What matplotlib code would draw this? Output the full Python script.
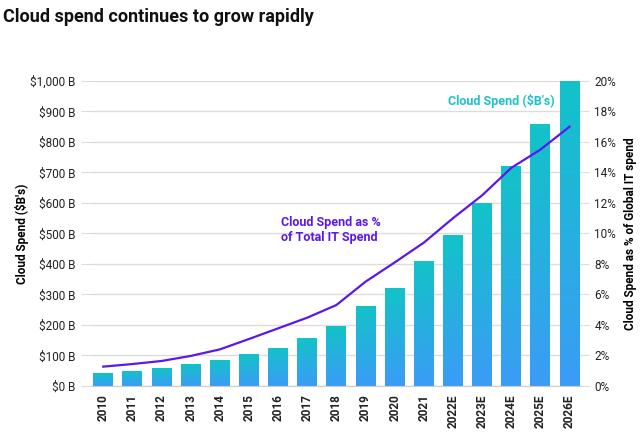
import numpy as np
import matplotlib
matplotlib.use("Agg")
import matplotlib.pyplot as plt
from matplotlib.colors import LinearSegmentedColormap

years = ["2010", "2011", "2012", "2013", "2014", "2015", "2016", "2017", "2018",
         "2019", "2020", "2021", "2022E", "2023E", "2024E", "2025E", "2026E"]
cloud_spend = [42, 50, 59, 71, 84, 104, 126, 156, 198, 261, 320, 410, 495, 599, 721, 859, 1000]
pct_it = [1.27, 1.44, 1.64, 1.97, 2.4, 3.08, 3.78, 4.48, 5.31, 6.84, 8.1, 9.4, 11.0, 12.5, 14.3, 15.5, 17.0]
left_ticks = [0, 100, 200, 300, 400, 500, 600, 700, 800, 900, 1000]
left_labels = ["$0 B", "$100 B", "$200 B", "$300 B", "$400 B", "$500 B", "$600 B",
               "$700 B", "$800 B", "$900 B", "$1,000 B"]
right_ticks = [0, 2, 4, 6, 8, 10, 12, 14, 16, 18, 20]

plt.rcParams['font.family'] = ['Roboto', 'DejaVu Sans']

fig = plt.figure(figsize=(6.4, 4.37), dpi=100)
ax = fig.add_axes([0.144, 0.1167, 0.765, 0.698])
ax.set_ylim(0, 1000)
ax.set_xlim(-0.38, 16.42)

x = np.arange(len(years))
bars = ax.bar(x, cloud_spend, width=0.68, color='none', edgecolor='none', zorder=2)
cmap = LinearSegmentedColormap.from_list("g", ["#3b9cf6", "#12c3c8"])
grad = np.linspace(0, 1, 256).reshape(-1, 1)
for b in bars:
    x0, y0 = b.get_x(), b.get_y()
    w, h = b.get_width(), b.get_height()
    im = ax.imshow(grad, extent=[x0, x0 + w, y0, y0 + h], origin='lower',
                   cmap=cmap, aspect='auto', zorder=2)
    im.set_clip_path(b)
ax.set_xlim(-0.38, 16.42)
ax.set_ylim(0, 1000)

ax.set_yticks(left_ticks)
ax.set_yticklabels(left_labels, fontsize=8.5, color='#222222')
ax.set_xticks(x)
ax.set_xticklabels(years, rotation=90, fontsize=8.5, fontweight='bold', color='#222222')
ax.grid(axis='y', color='#dcdcdc', linewidth=1, zorder=0)
ax.set_axisbelow(True)
for s in ['top', 'right', 'left']:
    ax.spines[s].set_visible(False)
ax.spines['bottom'].set_color('#cccccc')
ax.tick_params(axis='y', length=8, color='#dcdcdc', pad=4)
ax.tick_params(axis='x', length=0, pad=6)
ax.set_ylabel("Cloud Spend ($B's)", fontsize=8.5, fontweight='bold', labelpad=1)

ax2 = ax.twinx()
ax2.set_ylim(0, 20)
ax2.plot(x, pct_it, color='#5a17ee', linewidth=1.6, zorder=3)
ax2.set_yticks(right_ticks)
ax2.set_yticklabels([f"{t}%" for t in right_ticks], fontsize=8.5, color='#222222')
for s in ['top', 'right', 'left', 'bottom']:
    ax2.spines[s].set_visible(False)
ax2.tick_params(axis='y', length=5, color='#dcdcdc', pad=4)
ax2.set_ylabel("Cloud Spend as % of Global IT spend", fontsize=8.5, fontweight='bold', labelpad=6)

ax2.text(6.1, 11.15, "Cloud Spend as %\nof Total IT Spend", color='#5a17ee',
         fontsize=9, fontweight='bold', ha='left', va='top', linespacing=1.2)
ax2.text(15.5, 18.7, "Cloud Spend ($B's)", color='#1fc2ca', fontsize=9,
         fontweight='bold', ha='right', va='center')

fig.text(0.005, 0.96, "Cloud spend continues to grow rapidly", fontsize=13,
         fontweight='bold', ha='left', va='center', color='#111111')

fig.savefig("out.png", dpi=100)
